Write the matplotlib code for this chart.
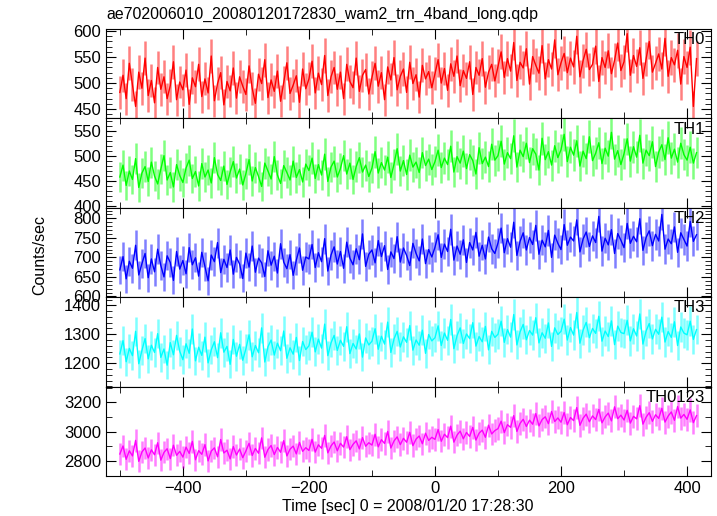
import matplotlib
matplotlib.use("Agg")
import matplotlib.pyplot as plt
from matplotlib.ticker import MultipleLocator
import numpy as np

plt.rcParams['font.family'] = ['Liberation Sans', 'DejaVu Sans']

# time bins (5 s), seconds relative to 2008/01/20 17:28:30
t_start = -500
t_step = 5

th0 = [482, 515, 470, 538, 497, 455, 521, 490, 548, 476, 505, 462, 530, 488, 512, 470, 495, 541, 468, 502,
       487, 525, 459, 510, 493, 536, 474, 508, 481, 552, 466, 499, 520, 458, 503, 485, 529, 471, 512, 494,
       478, 533, 490, 461, 517, 499, 545, 472, 506, 484, 523, 465, 501, 539, 480, 496, 514, 463, 527, 489,
       508, 542, 481, 519, 497, 553, 476, 512, 530, 488, 521, 470, 536, 503, 491, 548, 484, 515, 526, 479,
       511, 538, 494, 520, 468, 531, 506, 549, 487, 513, 527, 482, 540, 499, 516, 473, 534, 508, 522, 491,
       518, 545, 500, 528, 486, 537, 513, 552, 495, 524, 509, 541, 478, 530, 515, 547, 492, 521, 536, 504,
       532, 560, 511, 547, 523, 578, 505, 540, 529, 566, 498, 551, 534, 519, 572, 508, 545, 527, 583, 516,
       539, 557, 520, 548, 531, 590, 512, 543, 565, 526, 536, 571, 503, 549, 530, 562, 518, 544, 577, 524,
       541, 595, 515, 553, 532, 568, 509, 546, 580, 521, 538, 556, 527, 586, 513, 549, 535, 563, 498, 551,
       530, 569, 455, 547]

th1 = [458, 482, 441, 470, 453, 495, 437, 466, 479, 449, 488, 460, 444, 474, 501, 452, 467, 438, 483, 461,
       447, 476, 492, 455, 469, 440, 485, 458, 472, 446, 497, 463, 451, 480, 443, 468, 489, 456, 474, 442,
       465, 493, 450, 477, 459, 439, 486, 470, 454, 499, 462, 445, 481, 467, 452, 490, 457, 473, 448, 484,
       471, 496, 455, 483, 462, 504, 449, 478, 490, 458, 475, 501, 464, 486, 453, 479, 497, 468, 482, 459,
       476, 509, 466, 487, 472, 498, 457, 484, 515, 470, 491, 463, 502, 478, 488, 467, 507, 481, 494, 473,
       489, 512, 477, 496, 483, 520, 468, 499, 486, 510, 475, 503, 491, 464, 517, 485, 498, 479, 524, 492,
       501, 530, 484, 507, 495, 541, 478, 512, 499, 526, 487, 515, 504, 472, 536, 493, 509, 482, 521, 497,
       513, 544, 489, 518, 502, 531, 480, 510, 495, 539, 491, 506, 527, 485, 516, 500, 548, 494, 511, 483,
       505, 535, 490, 519, 498, 542, 486, 512, 501, 529, 479, 508, 523, 493, 537, 496, 514, 488, 526, 503,
       492, 518, 486, 507]

th2 = [668, 702, 645, 690, 672, 731, 655, 684, 710, 648, 696, 663, 721, 679, 650, 704, 687, 641, 715, 670,
       692, 658, 725, 681, 699, 652, 713, 676, 640, 706, 689, 738, 661, 695, 674, 719, 657, 700, 683, 646,
       711, 675, 729, 662, 698, 686, 651, 717, 680, 703, 660, 735, 688, 671, 707, 654, 693, 724, 667, 701,
       696, 733, 674, 712, 689, 748, 665, 706, 727, 683, 715, 672, 739, 698, 681, 722, 694, 760, 677, 708,
       719, 686, 743, 702, 730, 669, 714, 697, 753, 688, 724, 705, 679, 736, 710, 691, 747, 684, 720, 701,
       726, 758, 700, 734, 715, 772, 693, 729, 708, 745, 687, 738, 719, 764, 703, 731, 696, 752, 722, 710,
       737, 775, 712, 748, 726, 790, 705, 741, 763, 719, 751, 733, 782, 708, 744, 727, 769, 700, 757, 736,
       720, 784, 731, 752, 742, 796, 714, 747, 765, 728, 755, 738, 805, 716, 749, 732, 771, 710, 761, 744,
       725, 787, 736, 754, 740, 799, 718, 751, 768, 730, 759, 742, 810, 721, 747, 735, 778, 713, 763, 746,
       729, 792, 741, 758]

th3 = [1232, 1278, 1205, 1251, 1226, 1310, 1198, 1244, 1285, 1215, 1262, 1237, 1302, 1220, 1249, 1193, 1271, 1229, 1296, 1241,
       1212, 1267, 1234, 1318, 1208, 1255, 1227, 1290, 1201, 1246, 1274, 1219, 1305, 1238, 1258, 1196, 1282, 1224, 1265, 1210,
       1250, 1298, 1222, 1261, 1236, 1322, 1204, 1257, 1280, 1228, 1269, 1243, 1311, 1217, 1253, 1231, 1289, 1209, 1275, 1247,
       1260, 1307, 1239, 1283, 1252, 1335, 1226, 1270, 1296, 1244, 1279, 1258, 1326, 1233, 1268, 1249, 1301, 1221, 1287, 1263,
       1276, 1319, 1248, 1293, 1266, 1342, 1237, 1284, 1310, 1256, 1291, 1272, 1330, 1245, 1280, 1262, 1314, 1234, 1299, 1277,
       1288, 1329, 1261, 1304, 1279, 1351, 1250, 1295, 1322, 1268, 1301, 1285, 1340, 1259, 1292, 1274, 1327, 1246, 1310, 1289,
       1300, 1345, 1272, 1316, 1290, 1368, 1263, 1308, 1334, 1281, 1313, 1297, 1357, 1270, 1305, 1286, 1339, 1258, 1322, 1299,
       1310, 1352, 1280, 1323, 1297, 1375, 1269, 1314, 1341, 1288, 1320, 1303, 1362, 1276, 1311, 1292, 1346, 1264, 1328, 1306,
       1302, 1348, 1277, 1319, 1294, 1370, 1266, 1311, 1337, 1284, 1317, 1300, 1359, 1273, 1309, 1289, 1343, 1261, 1325, 1304,
       1298, 1345, 1282, 1316]

th0123 = [2848, 2903, 2812, 2870, 2835, 2941, 2798, 2862, 2889, 2821, 2877, 2843, 2925, 2806, 2859, 2884, 2817, 2908, 2839, 2866,
          2827, 2895, 2852, 2934, 2809, 2871, 2846, 2912, 2801, 2868, 2890, 2829, 2947, 2855, 2874, 2815, 2899, 2841, 2882, 2823,
          2869, 2921, 2838, 2886, 2853, 2958, 2826, 2879, 2906, 2844, 2893, 2860, 2939, 2835, 2881, 2902, 2849, 2927, 2866, 2891,
          2872, 2948, 2861, 2911, 2887, 2975, 2856, 2903, 2930, 2870, 2921, 2895, 2966, 2878, 2914, 2938, 2883, 2960, 2901, 2925,
          2909, 2983, 2897, 2946, 2920, 3002, 2889, 2937, 2965, 2912, 2955, 2928, 2996, 2905, 2950, 2971, 2918, 2990, 2941, 2962,
          2948, 3015, 2935, 2983, 2960, 3038, 2929, 2977, 3004, 2952, 2995, 2968, 3030, 2943, 2990, 3011, 2962, 3045, 2985, 3008,
          3021, 3072, 2994, 3048, 3030, 3110, 3002, 3057, 3085, 3036, 3079, 3051, 3124, 3040, 3083, 3102, 3055, 3138, 3070, 3094,
          3065, 3131, 3048, 3097, 3076, 3165, 3044, 3092, 3120, 3068, 3108, 3083, 3152, 3061, 3101, 3127, 3074, 3170, 3089, 3113,
          3080, 3146, 3059, 3105, 3088, 3178, 3052, 3099, 3130, 3071, 3116, 3091, 3160, 3066, 3107, 3135, 3078, 3172, 3093, 3118,
          3085, 3149, 3062, 3110]

names = ['TH0', 'TH1', 'TH2', 'TH3', 'TH0123']
series = [th0, th1, th2, th3, th0123]
colors = ['#ff0000', '#00ff00', '#0000ff', '#00ffff', '#ff00ff']
ylims = [(432, 604), (396, 576), (598, 827), (1119, 1428), (2698, 3308)]
ymajor = [50, 50, 50, 100, 200]
yminor = [10, 10, 10, 20, 100]

W, H = 717, 516
fig = plt.figure(figsize=(W / 100, H / 100), dpi=100)

left, right = 106, 711
top, bottom = 29, 476
ph = (bottom - top) / 5

for k in range(5):
    y = np.array(series[k], dtype=float)
    t = t_start + t_step * np.arange(len(y))
    err = np.sqrt(y / 0.5)
    y0 = top + k * ph
    ax = fig.add_axes([left / W, 1 - (y0 + ph) / H, (right - left) / W, ph / H])
    ax.errorbar(t, y, yerr=err, fmt='none', ecolor=colors[k], alpha=0.5, elinewidth=1.8)
    ax.plot(t, y, color=colors[k], lw=1.0)
    ax.set_xlim(-522, 438)
    ax.set_ylim(*ylims[k])
    ax.xaxis.set_major_locator(MultipleLocator(200))
    ax.xaxis.set_minor_locator(MultipleLocator(100))
    ax.yaxis.set_major_locator(MultipleLocator(ymajor[k]))
    ax.yaxis.set_minor_locator(MultipleLocator(yminor[k]))
    ax.tick_params(which='both', direction='in', top=True, right=True, labelsize=12)
    ax.tick_params(which='major', length=7)
    ax.tick_params(which='minor', length=4)
    if k < 4:
        ax.tick_params(labelbottom=False)
    ax.text(0.99, 0.88, names[k], transform=ax.transAxes, ha='right', va='center', fontsize=12)

fig.text(left / W, 1 - 14 / H, 'ae702006010_20080120172830_wam2_trn_4band_long.qdp',
         ha='left', va='center', fontsize=11.4)
fig.text(40 / W, 1 - 255 / H, 'Counts/sec', rotation=90, ha='center', va='center', fontsize=11.5)
fig.text(408 / W, 1 - 506 / H, 'Time [sec] 0 = 2008/01/20 17:28:30', ha='center', va='center', fontsize=11.5)

fig.savefig('out.png', dpi=100)
